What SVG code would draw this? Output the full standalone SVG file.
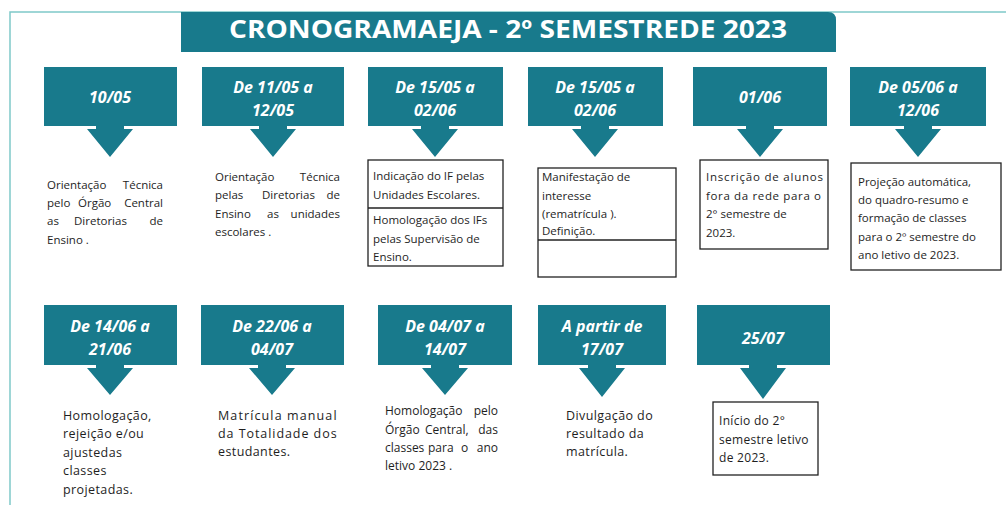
<svg xmlns="http://www.w3.org/2000/svg" width="1006" height="505" viewBox="0 0 1006 505">
<style>
.bx{fill:#187a8c}
.dt{fill:#ffffff;font-family:"Open Sans","Liberation Sans",sans-serif;font-weight:bold;font-style:italic;font-size:16px;text-anchor:middle}
.tx{fill:#1e1e1e;font-family:"Open Sans","Liberation Sans",sans-serif;font-size:11.5px}
.tx2{fill:#1e1e1e;font-family:"Open Sans","Liberation Sans",sans-serif;font-size:12.5px;letter-spacing:0.4px}
.e{text-anchor:end}
.fr{fill:none;stroke:#222222;stroke-width:1.3}
.ttl{fill:#ffffff;font-family:"Open Sans","Liberation Sans",sans-serif;font-weight:bold;font-size:25px;text-anchor:middle}
</style>
<rect width="1006" height="505" fill="#ffffff"/>
<path d="M10,505 V12 H1006" fill="none" stroke="#7fc9c9" stroke-width="1.5"/>
<g id="title">
<path d="M181,12 H828 Q836,12 836,20 V52 H181 Z" class="bx"/>
<text x="508" y="38" class="ttl" textLength="558" lengthAdjust="spacingAndGlyphs">CRONOGRAMAEJA - 2º SEMESTREDE 2023</text>
</g>
<g id="connectors" class="bx">
<polygon points="96,126 124,126 124,129 133,129 110,157 87,129 96,129"/>
<polygon points="259,126 287,126 287,129 296,129 273,157 250,129 259,129"/>
<polygon points="421,126 449,126 449,129 458,129 435,157 412,129 421,129"/>
<polygon points="581,126 609,126 609,129 618,129 595,157 572,129 581,129"/>
<polygon points="746,126 774,126 774,129 783,129 760,157 737,129 746,129"/>
<polygon points="904,126 932,126 932,129 941,129 918,157 895,129 904,129"/>
<polygon points="96,365 124,365 124,368 133,368 110,395 87,368 96,368"/>
<polygon points="258,365 286,365 286,368 295,368 272,395 249,368 258,368"/>
<polygon points="431,365 459,365 459,368 468,368 445,395 422,368 431,368"/>
<polygon points="588,365 616,365 616,368 625,368 602,397 579,368 588,368"/>
<polygon points="749,365 777,365 777,368 786,368 763,399 740,368 749,368"/>
</g>
<g id="n1">
<rect x="44" y="67" width="133" height="59" class="bx"/>
<text x="110" y="103" class="dt">10/05</text>
<g class="tx">
<text x="47" y="189">Orientação</text><text x="163" y="189" class="e">Técnica</text>
<text x="47" y="207">pelo</text><text x="78" y="207">Órgão</text><text x="163" y="207" class="e">Central</text>
<text x="47" y="225">as</text><text x="74" y="225">Diretorias</text><text x="163" y="225" class="e">de</text>
<text x="47" y="244">Ensino .</text>
</g>
</g>
<g id="n2">
<rect x="202" y="67" width="142" height="59" class="bx"/>
<text x="273" y="93" class="dt">De 11/05 a</text>
<text x="273" y="116" class="dt">12/05</text>
<g class="tx">
<text x="215" y="181">Orientação</text><text x="340" y="181" class="e">Técnica</text>
<text x="215" y="199">pelas</text><text x="262" y="199">Diretorias</text><text x="340" y="199" class="e">de</text>
<text x="215" y="218">Ensino</text><text x="267" y="218">as</text><text x="340" y="218" class="e">unidades</text>
<text x="215" y="236">escolares .</text>
</g>
</g>
<g id="n3">
<rect x="368" y="67" width="135" height="59" class="bx"/>
<text x="435" y="93" class="dt">De 15/05 a</text>
<text x="435" y="116" class="dt">02/06</text>
<rect x="368" y="160" width="135" height="106" class="fr"/>
<line x1="368" y1="208" x2="503" y2="208" class="fr"/>
<text class="tx"><tspan x="373" y="180">Indicação  do IF pelas</tspan><tspan x="373" y="199">Unidades  Escolares.</tspan><tspan x="373" y="224">Homologação  dos IFs</tspan><tspan x="373" y="243">pelas Supervisão  de</tspan><tspan x="373" y="261">Ensino.</tspan></text>
</g>
<g id="n4">
<rect x="528" y="67" width="135" height="59" class="bx"/>
<text x="595" y="93" class="dt">De 15/05 a</text>
<text x="595" y="116" class="dt">02/06</text>
<rect x="538" y="168" width="138" height="109" class="fr"/>
<line x1="538" y1="240" x2="676" y2="240" class="fr"/>
<text class="tx"><tspan x="542" y="181">Manifestação  de</tspan><tspan x="542" y="200">interesse</tspan><tspan x="542" y="218">(rematrícula ).</tspan><tspan x="542" y="235">Definição.</tspan></text>
</g>
<g id="n5">
<rect x="693" y="67" width="134" height="59" class="bx"/>
<text x="760" y="103" class="dt">01/06</text>
<rect x="700" y="160" width="128" height="89" class="fr"/>
<text class="tx"><tspan x="706" y="181" textLength="117" lengthAdjust="spacing">Inscrição  de alunos</tspan><tspan x="706" y="200" textLength="115" lengthAdjust="spacing">fora da rede para o</tspan><tspan x="706" y="218">2° semestre de</tspan><tspan x="706" y="237">2023.</tspan></text>
</g>
<g id="n6">
<rect x="850" y="67" width="136" height="59" class="bx"/>
<text x="918" y="93" class="dt">De 05/06 a</text>
<text x="918" y="116" class="dt">12/06</text>
<rect x="851" y="163" width="150" height="107" class="fr"/>
<text class="tx"><tspan x="858" y="186">Projeção automática,</tspan><tspan x="858" y="204">do quadro-resumo  e</tspan><tspan x="858" y="222">formação  de classes</tspan><tspan x="858" y="241">para o 2º semestre do</tspan><tspan x="858" y="259">ano letivo de 2023.</tspan></text>
</g>
<g id="n7">
<rect x="44" y="305" width="133" height="60" class="bx"/>
<text x="110" y="332" class="dt">De 14/06 a</text>
<text x="110" y="355" class="dt">21/06</text>
<text class="tx2"><tspan x="63" y="420">Homologação,</tspan><tspan x="63" y="438">rejeição  e/ou</tspan><tspan x="63" y="457">ajustedas</tspan><tspan x="63" y="475">classes</tspan><tspan x="63" y="494">projetadas.</tspan></text>
</g>
<g id="n8">
<rect x="201" y="305" width="143" height="60" class="bx"/>
<text x="272" y="332" class="dt">De 22/06 a</text>
<text x="272" y="355" class="dt">04/07</text>
<text class="tx2"><tspan x="218" y="420" textLength="119" lengthAdjust="spacing">Matrícula manual</tspan><tspan x="218" y="438" textLength="119" lengthAdjust="spacing">da Totalidade  dos</tspan><tspan x="218" y="456">estudantes.</tspan></text>
</g>
<g id="n9">
<rect x="378" y="305" width="134" height="60" class="bx"/>
<text x="445" y="332" class="dt">De 04/07 a</text>
<text x="445" y="355" class="dt">14/07</text>
<g class="tx" style="font-size:12px">
<text x="385" y="415">Homologação</text><text x="498" y="415" class="e">pelo</text>
<text x="385" y="434">Órgão</text><text x="425" y="434">Central,</text><text x="498" y="434" class="e">das</text>
<text x="385" y="452">classes</text><text x="428" y="452">para</text><text x="461" y="452">o</text><text x="498" y="452" class="e">ano</text>
<text x="385" y="470">letivo 2023 .</text>
</g>
</g>
<g id="n10">
<rect x="538" y="305" width="128" height="60" class="bx"/>
<text x="602" y="332" class="dt">A partir de</text>
<text x="602" y="355" class="dt">17/07</text>
<text class="tx2"><tspan x="566" y="420">Divulgação do</tspan><tspan x="566" y="438">resultado  da</tspan><tspan x="566" y="456">matrícula.</tspan></text>
</g>
<g id="n11">
<rect x="697" y="305" width="133" height="60" class="bx"/>
<text x="763" y="344" class="dt">25/07</text>
<rect x="713" y="402" width="105" height="73" class="fr"/>
<text class="tx" style="font-size:12px;letter-spacing:0.3px"><tspan x="719" y="425">Início  do 2°</tspan><tspan x="719" y="444">semestre letivo</tspan><tspan x="719" y="462">de 2023.</tspan></text>
</g>
</svg>
